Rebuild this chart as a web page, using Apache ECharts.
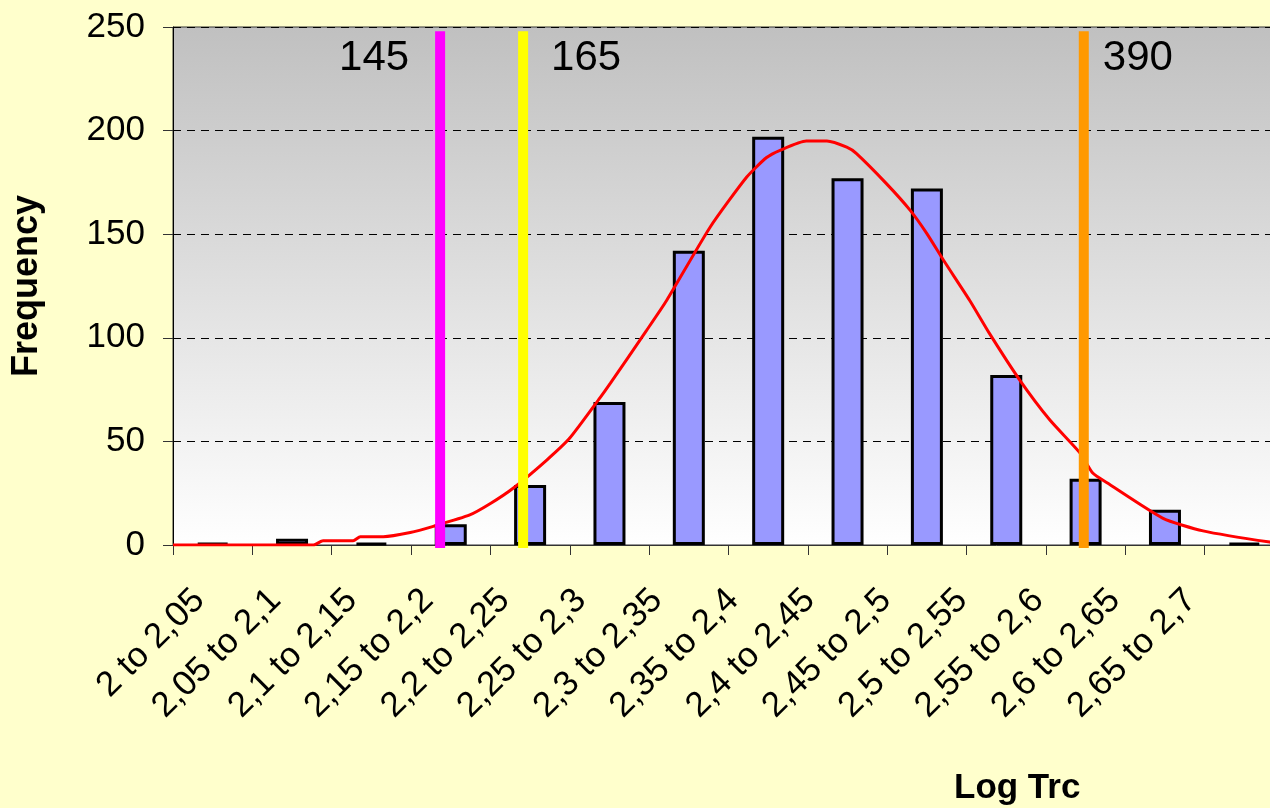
<!DOCTYPE html>
<html>
<head>
<meta charset="utf-8">
<script src="https://cdn.jsdelivr.net/npm/echarts@6/dist/echarts.min.js"></script>
<style>
  html, body { margin: 0; padding: 0; background: #FFFFCC; }
  #main { width: 1270px; height: 808px; }
</style>
</head>
<body>
<div id="main"></div>
<script>
// histogram classes
var categories = ["2 to 2,05", "2,05 to 2,1", "2,1 to 2,15", "2,15 to 2,2", "2,2 to 2,25",
    "2,25 to 2,3", "2,3 to 2,35", "2,35 to 2,4", "2,4 to 2,45", "2,45 to 2,5",
    "2,5 to 2,55", "2,55 to 2,6", "2,6 to 2,65", "2,65 to 2,7"];
var frequency = [1, 3, 1, 10, 29, 69, 142, 197, 177, 172, 82, 32, 17, 1];

// fitted curve, x in class units (0 = left edge of first class)
var curveX = [0, 1.77, 1.89, 2.27, 2.36, 2.65, 2.99, 3.28, 3.74, 4.0, 4.29, 4.71, 5.0, 5.38, 5.51,
    5.97, 6.22, 6.77, 7.23, 7.48, 7.65, 7.98, 8.24, 8.49, 8.61, 8.99, 9.29, 9.5, 9.71, 10.04,
    10.29, 10.67, 11.05, 11.43, 11.59, 11.77, 12.47, 12.98, 13.82, 14];
var curveY = [0, 0, 2, 2, 4, 4, 6, 9, 14.5, 20, 27.5, 41, 51.6, 71, 78,
    103.7, 118, 153.5, 177.6, 187, 190.5, 195, 195, 192, 189, 174.4, 161.5, 150.3, 137.4, 118,
    102, 79.6, 60.3, 44.4, 34.7, 30, 13, 6.8, 1.4, 1];

// threshold markers
var markerNames = ["145", "165", "390"];
var markerX = [3.366, 4.412, 11.477];
var markerColors = ["#FF00FF", "#FFFF00", "#FF9900"];

var yTicks = { min: 0, max: 250, interval: 50 };

var font = "'Liberation Sans', Arial, sans-serif";
var chart = echarts.init(document.getElementById("main"));

var curveData = curveX.map(function (x, i) { return [x, curveY[i]]; });

// label placement per marker: left / right of the line
var markerLabel = [
    { position: "left", distance: 31 },
    { position: "right", distance: 28 },
    { position: "right", distance: 19 }
];

var markerSeries = markerNames.map(function (name, i) {
    return {
        type: "line",
        xAxisIndex: 2,
        yAxisIndex: 0,
        clip: false,
        z: 5,
        symbol: "circle",
        symbolSize: 0,
        showSymbol: true,
        lineStyle: { color: markerColors[i], width: 10, cap: "butt" },
        itemStyle: { color: markerColors[i] },
        silent: true,
        data: [
            { value: [markerX[i], -1.5] },
            {
                value: [markerX[i], 248],
                label: {
                    show: true,
                    position: markerLabel[i].position,
                    distance: markerLabel[i].distance,
                    offset: [0, 27],
                    formatter: name,
                    fontSize: 42,
                    fontFamily: font,
                    color: "#000"
                }
            }
        ]
    };
});

var option = {
    backgroundColor: "#FFFFCC",
    animation: false,
    title: {
        text: "Log Trc",
        left: 949,
        top: 766,
        textStyle: { fontSize: 35, fontWeight: "bold", fontFamily: font, color: "#000" }
    },
    grid: [
        {
            left: 173, top: 27, width: 1111, height: 518,
            outerBoundsMode: "none",
            show: true,
            borderColor: "#333",
            borderWidth: 1,
            backgroundColor: {
                type: "linear", x: 0, y: 0, x2: 0, y2: 1,
                colorStops: [{ offset: 0, color: "#C0C0C0" }, { offset: 1, color: "#FFFFFF" }]
            }
        },
        // label strip (labels are packed a bit tighter than the classes)
        { left: 161, top: 27, width: 1068, height: 518, show: false, outerBoundsMode: "none" }
    ],
    xAxis: [
        {
            type: "category",
            gridIndex: 0,
            data: categories,
            boundaryGap: true,
            axisLine: { lineStyle: { color: "#333", width: 1 } },
            axisTick: { show: true, length: 10, interval: 0, lineStyle: { color: "#333" } },
            axisLabel: { show: false },
            splitLine: { show: false }
        },
        {
            type: "category",
            gridIndex: 1,
            data: categories,
            axisLine: { show: false },
            axisTick: { show: false },
            axisLabel: {
                show: true, interval: 0, rotate: 45, margin: 50,
                fontSize: 35, fontFamily: font, color: "#000"
            }
        },
        {
            type: "value",
            gridIndex: 0,
            min: 0, max: 14,
            show: false
        }
    ],
    yAxis: [
        {
            type: "value",
            gridIndex: 0,
            min: yTicks.min, max: yTicks.max, interval: yTicks.interval,
            name: "Frequency",
            nameLocation: "middle",
            nameRotate: 90,
            nameGap: 128,
            nameTextStyle: { fontSize: 36, fontWeight: "bold", fontFamily: font, color: "#000" },
            axisLine: { show: true, lineStyle: { color: "#000", width: 1 } },
            axisTick: { show: true, length: 10, lineStyle: { color: "#333" } },
            axisLabel: { fontSize: 35, fontFamily: font, color: "#000", margin: 28 },
            splitLine: { show: true, lineStyle: { color: "#000", type: [8, 6], width: 1 } }
        },
        { type: "value", gridIndex: 1, min: 0, max: 250, show: false }
    ],
    series: [
        {
            name: "Frequency",
            type: "bar",
            xAxisIndex: 0,
            yAxisIndex: 0,
            barWidth: 32,
            itemStyle: { color: "#9999FF", borderColor: "#000", borderWidth: 3 },
            z: 2,
            data: frequency
        },
        {
            name: "Normal",
            type: "line",
            xAxisIndex: 2,
            yAxisIndex: 0,
            showSymbol: false,
            smooth: 0.2,
            z: 3,
            lineStyle: { color: "#FF0000", width: 3 },
            data: curveData
        }
    ].concat(markerSeries)
};

chart.setOption(option);
</script>
</body>
</html>
